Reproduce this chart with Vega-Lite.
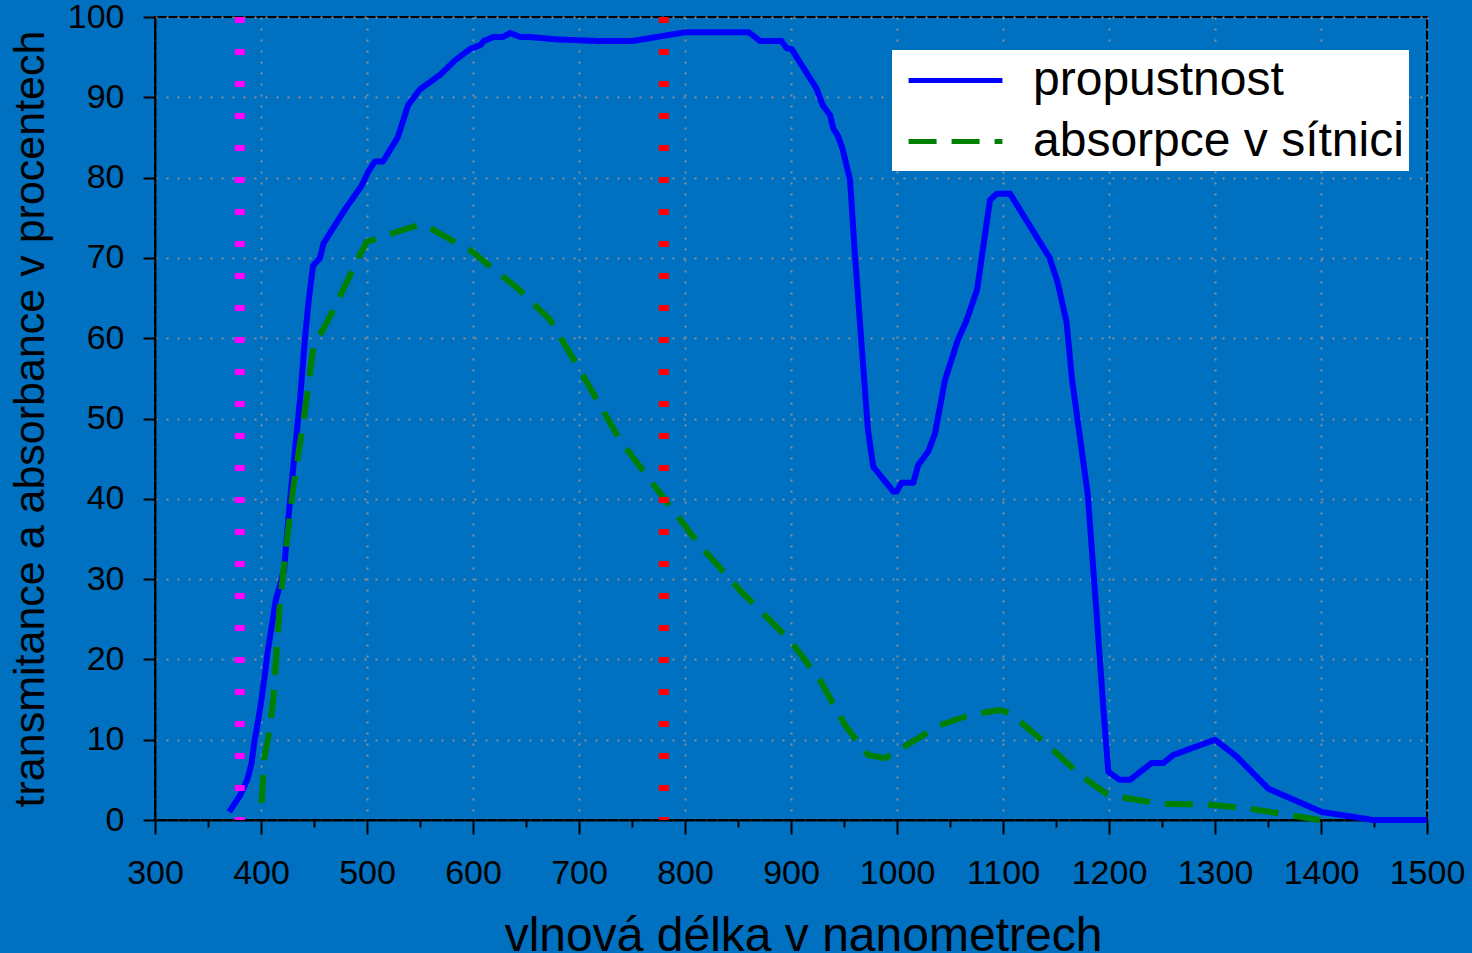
{
  "$schema": "https://vega.github.io/schema/vega-lite/v6.json",
  "width": 1272,
  "height": 803,
  "autosize": {"type": "none"},
  "padding": {"left": 155, "top": 17, "right": 45, "bottom": 133},
  "background": "#0070C0",
  "config": {
    "view": {"stroke": "black", "strokeWidth": 2},
    "font": "Liberation Sans",
    "axis": {
      "domainColor": "black",
      "domainWidth": 2,
      "tickColor": "black",
      "tickWidth": 2,
      "labelColor": "black",
      "labelFont": "Liberation Sans",
      "labelFontSize": 34,
      "titleColor": "black",
      "titleFont": "Liberation Sans",
      "titleFontWeight": "normal",
      "gridColor": "#8a8f99",
      "gridDash": [2, 9],
      "gridWidth": 2
    }
  },
  "datasets": {
    "lines": [
      {"nm": 370, "pct": 1, "series": "propustnost"},
      {"nm": 380, "pct": 3, "series": "propustnost"},
      {"nm": 387, "pct": 5, "series": "propustnost"},
      {"nm": 391, "pct": 7, "series": "propustnost"},
      {"nm": 394, "pct": 10, "series": "propustnost"},
      {"nm": 397.5, "pct": 12.5, "series": "propustnost"},
      {"nm": 401, "pct": 15.5, "series": "propustnost"},
      {"nm": 406.6, "pct": 21.2, "series": "propustnost"},
      {"nm": 414, "pct": 27.4, "series": "propustnost"},
      {"nm": 421.7, "pct": 31.1, "series": "propustnost"},
      {"nm": 427.4, "pct": 39.9, "series": "propustnost"},
      {"nm": 432, "pct": 46, "series": "propustnost"},
      {"nm": 436.8, "pct": 52.3, "series": "propustnost"},
      {"nm": 441.5, "pct": 60, "series": "propustnost"},
      {"nm": 445, "pct": 64.7, "series": "propustnost"},
      {"nm": 449, "pct": 69, "series": "propustnost"},
      {"nm": 455.7, "pct": 70, "series": "propustnost"},
      {"nm": 459, "pct": 71.8, "series": "propustnost"},
      {"nm": 479, "pct": 76, "series": "propustnost"},
      {"nm": 495, "pct": 79, "series": "propustnost"},
      {"nm": 501, "pct": 80.7, "series": "propustnost"},
      {"nm": 507.5, "pct": 82, "series": "propustnost"},
      {"nm": 515, "pct": 82, "series": "propustnost"},
      {"nm": 529, "pct": 85, "series": "propustnost"},
      {"nm": 538.7, "pct": 89, "series": "propustnost"},
      {"nm": 550, "pct": 91, "series": "propustnost"},
      {"nm": 569, "pct": 92.8, "series": "propustnost"},
      {"nm": 583, "pct": 94.6, "series": "propustnost"},
      {"nm": 597, "pct": 96, "series": "propustnost"},
      {"nm": 607, "pct": 96.5, "series": "propustnost"},
      {"nm": 610, "pct": 97, "series": "propustnost"},
      {"nm": 619, "pct": 97.5, "series": "propustnost"},
      {"nm": 628, "pct": 97.5, "series": "propustnost"},
      {"nm": 635, "pct": 98, "series": "propustnost"},
      {"nm": 645, "pct": 97.5, "series": "propustnost"},
      {"nm": 654, "pct": 97.5, "series": "propustnost"},
      {"nm": 680, "pct": 97.2, "series": "propustnost"},
      {"nm": 720, "pct": 97, "series": "propustnost"},
      {"nm": 750, "pct": 97, "series": "propustnost"},
      {"nm": 800, "pct": 98.1, "series": "propustnost"},
      {"nm": 860, "pct": 98.1, "series": "propustnost"},
      {"nm": 871, "pct": 97, "series": "propustnost"},
      {"nm": 891, "pct": 97, "series": "propustnost"},
      {"nm": 896, "pct": 96.1, "series": "propustnost"},
      {"nm": 900.6, "pct": 96, "series": "propustnost"},
      {"nm": 924, "pct": 91.1, "series": "propustnost"},
      {"nm": 930, "pct": 89, "series": "propustnost"},
      {"nm": 936.8, "pct": 87.8, "series": "propustnost"},
      {"nm": 940, "pct": 86.1, "series": "propustnost"},
      {"nm": 944.6, "pct": 85.1, "series": "propustnost"},
      {"nm": 949, "pct": 83.4, "series": "propustnost"},
      {"nm": 955.7, "pct": 79.7, "series": "propustnost"},
      {"nm": 960, "pct": 71, "series": "propustnost"},
      {"nm": 967, "pct": 58.5, "series": "propustnost"},
      {"nm": 972.6, "pct": 48.6, "series": "propustnost"},
      {"nm": 977.6, "pct": 44, "series": "propustnost"},
      {"nm": 996.5, "pct": 40.9, "series": "propustnost"},
      {"nm": 999.7, "pct": 40.9, "series": "propustnost"},
      {"nm": 1004.4, "pct": 42, "series": "propustnost"},
      {"nm": 1015.4, "pct": 42, "series": "propustnost"},
      {"nm": 1020, "pct": 44.2, "series": "propustnost"},
      {"nm": 1029.5, "pct": 45.9, "series": "propustnost"},
      {"nm": 1035.8, "pct": 48.1, "series": "propustnost"},
      {"nm": 1045.3, "pct": 54.8, "series": "propustnost"},
      {"nm": 1057.5, "pct": 59.8, "series": "propustnost"},
      {"nm": 1065, "pct": 62, "series": "propustnost"},
      {"nm": 1075.5, "pct": 66, "series": "propustnost"},
      {"nm": 1087.7, "pct": 77.2, "series": "propustnost"},
      {"nm": 1094, "pct": 78, "series": "propustnost"},
      {"nm": 1106.6, "pct": 78, "series": "propustnost"},
      {"nm": 1144, "pct": 70, "series": "propustnost"},
      {"nm": 1151.5, "pct": 67, "series": "propustnost"},
      {"nm": 1160, "pct": 62, "series": "propustnost"},
      {"nm": 1165, "pct": 55, "series": "propustnost"},
      {"nm": 1180, "pct": 40.5, "series": "propustnost"},
      {"nm": 1188.7, "pct": 25, "series": "propustnost"},
      {"nm": 1194.6, "pct": 14, "series": "propustnost"},
      {"nm": 1199.4, "pct": 6, "series": "propustnost"},
      {"nm": 1210, "pct": 5, "series": "propustnost"},
      {"nm": 1219.8, "pct": 5, "series": "propustnost"},
      {"nm": 1240.3, "pct": 7.1, "series": "propustnost"},
      {"nm": 1251.3, "pct": 7.1, "series": "propustnost"},
      {"nm": 1260.7, "pct": 8.1, "series": "propustnost"},
      {"nm": 1300, "pct": 10, "series": "propustnost"},
      {"nm": 1320.4, "pct": 7.9, "series": "propustnost"},
      {"nm": 1350.3, "pct": 3.9, "series": "propustnost"},
      {"nm": 1400.6, "pct": 1, "series": "propustnost"},
      {"nm": 1449.3, "pct": 0, "series": "propustnost"},
      {"nm": 1500, "pct": 0, "series": "propustnost"},
      {"nm": 400.6, "pct": 2.1, "series": "absorpce v sítnici"},
      {"nm": 402.8, "pct": 7.5, "series": "absorpce v sítnici"},
      {"nm": 407, "pct": 10.4, "series": "absorpce v sítnici"},
      {"nm": 411.6, "pct": 15, "series": "absorpce v sítnici"},
      {"nm": 418, "pct": 27.4, "series": "absorpce v sítnici"},
      {"nm": 430, "pct": 41, "series": "absorpce v sítnici"},
      {"nm": 443.8, "pct": 53.1, "series": "absorpce v sítnici"},
      {"nm": 449.4, "pct": 58.9, "series": "absorpce v sítnici"},
      {"nm": 458.8, "pct": 61.2, "series": "absorpce v sítnici"},
      {"nm": 466.7, "pct": 63.1, "series": "absorpce v sítnici"},
      {"nm": 493.4, "pct": 70.4, "series": "absorpce v sítnici"},
      {"nm": 499.7, "pct": 72, "series": "absorpce v sítnici"},
      {"nm": 524.8, "pct": 73.1, "series": "absorpce v sítnici"},
      {"nm": 551, "pct": 74.2, "series": "absorpce v sítnici"},
      {"nm": 562.6, "pct": 73.5, "series": "absorpce v sítnici"},
      {"nm": 587.7, "pct": 71.6, "series": "absorpce v sítnici"},
      {"nm": 597, "pct": 71, "series": "absorpce v sítnici"},
      {"nm": 644, "pct": 66, "series": "absorpce v sítnici"},
      {"nm": 672.6, "pct": 62.3, "series": "absorpce v sítnici"},
      {"nm": 700.9, "pct": 56, "series": "absorpce v sítnici"},
      {"nm": 738.7, "pct": 47.3, "series": "absorpce v sítnici"},
      {"nm": 781, "pct": 39.9, "series": "absorpce v sítnici"},
      {"nm": 814, "pct": 34.2, "series": "absorpce v sítnici"},
      {"nm": 851.9, "pct": 28.6, "series": "absorpce v sítnici"},
      {"nm": 899, "pct": 22.4, "series": "absorpce v sítnici"},
      {"nm": 927.4, "pct": 17.4, "series": "absorpce v sítnici"},
      {"nm": 951, "pct": 11.8, "series": "absorpce v sítnici"},
      {"nm": 972.6, "pct": 8.1, "series": "absorpce v sítnici"},
      {"nm": 988.7, "pct": 7.7, "series": "absorpce v sítnici"},
      {"nm": 1040.6, "pct": 11.8, "series": "absorpce v sítnici"},
      {"nm": 1068.9, "pct": 13.1, "series": "absorpce v sítnici"},
      {"nm": 1097, "pct": 13.7, "series": "absorpce v sítnici"},
      {"nm": 1106.6, "pct": 13.3, "series": "absorpce v sítnici"},
      {"nm": 1144.3, "pct": 9.1, "series": "absorpce v sítnici"},
      {"nm": 1172.6, "pct": 5.6, "series": "absorpce v sítnici"},
      {"nm": 1199.4, "pct": 3.1, "series": "absorpce v sítnici"},
      {"nm": 1249.7, "pct": 2, "series": "absorpce v sítnici"},
      {"nm": 1292, "pct": 1.95, "series": "absorpce v sítnici"},
      {"nm": 1333, "pct": 1.4, "series": "absorpce v sítnici"},
      {"nm": 1399, "pct": 0, "series": "absorpce v sítnici"}
    ]
  },
  "layer": [
    {
      "data": {"name": "lines"},
      "mark": {"type": "line", "strokeWidth": 6, "strokeCap": "butt", "strokeJoin": "round"},
      "encoding": {
        "x": {
          "field": "nm",
          "type": "quantitative",
          "scale": {"domain": [300, 1500], "nice": false, "zero": false},
          "axis": {
            "title": "vlnová délka v nanometrech",
            "titleFontSize": 48,
            "titlePadding": 22,
            "titleX": 648,
            "values": [300, 350, 400, 450, 500, 550, 600, 650, 700, 750, 800, 850, 900, 950, 1000, 1050, 1100, 1150, 1200, 1250, 1300, 1350, 1400, 1450, 1500],
            "labelExpr": "datum.value % 100 === 0 ? datum.label : ''",
            "format": "d",
            "labelPadding": 22,
            "labelFlush": false,
            "labelOverlap": false,
            "tickSize": {"condition": {"test": "datum.value % 100 === 0", "value": 14}, "value": 7},
            "gridOpacity": {"condition": {"test": "datum.value % 100 === 0", "value": 1}, "value": 0}
          }
        },
        "y": {
          "field": "pct",
          "type": "quantitative",
          "scale": {"domain": [0, 100], "nice": false},
          "axis": {
            "title": "transmitance a absorbance v procentech",
            "titleFontSize": 43,
            "titlePadding": 15,
            "values": [0, 10, 20, 30, 40, 50, 60, 70, 80, 90, 100],
            "labelPadding": 19,
            "tickSize": 12,
            "labelFlush": false,
            "labelOverlap": false
          }
        },
        "color": {
          "field": "series",
          "type": "nominal",
          "scale": {"domain": ["propustnost", "absorpce v sítnici"], "range": ["#0000FF", "#008000"]},
          "legend": {
            "title": null,
            "orient": "none",
            "legendX": 737,
            "legendY": 33,
            "fillColor": "white",
            "padding": 5,
            "symbolOffset": 33,
            "symbolType": "M-2.04,0H2.04",
            "symbolSize": 2116,
            "symbolStrokeWidth": 5,
            "labelFont": "Liberation Sans",
            "labelFontSize": 48,
            "labelColor": "black",
            "labelOffset": 52,
            "labelLimit": 0,
            "rowPadding": 11
          }
        },
        "strokeDash": {
          "field": "series",
          "type": "nominal",
          "scale": {"domain": ["propustnost", "absorpce v sítnici"], "range": [[1, 0], [28, 15]]},
          "legend": {"title": null}
        }
      }
    },
    {
      "data": {"values": [{"nm": 380}]},
      "mark": {"type": "rule", "color": "#FF00FF", "strokeWidth": 10, "strokeDash": [6, 26], "strokeCap": "butt"},
      "encoding": {"x": {"field": "nm", "type": "quantitative"}}
    },
    {
      "data": {"values": [{"nm": 780}]},
      "mark": {"type": "rule", "color": "#FF0000", "strokeWidth": 10, "strokeDash": [6, 26], "strokeCap": "butt"},
      "encoding": {"x": {"field": "nm", "type": "quantitative"}}
    }
  ]
}
